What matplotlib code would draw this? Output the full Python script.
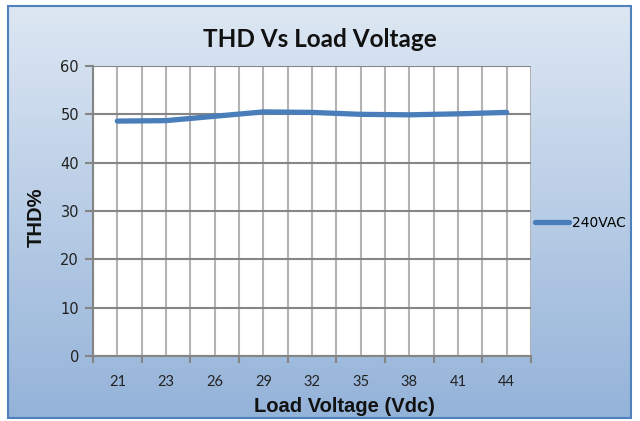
import matplotlib
matplotlib.use("Agg")
import matplotlib.pyplot as plt
import numpy as np
from matplotlib.patches import Rectangle

load_v = ['21', '23', '26', '29', '32', '35', '38', '41', '44']
thd_240 = [48.6, 48.7, 49.6, 50.5, 50.4, 50.0, 49.9, 50.1, 50.4]
series_name = '240VAC'

W, H = 640, 421
fig = plt.figure(figsize=(W / 100, H / 100), dpi=100)
fig.patch.set_facecolor('white')

# background panel with vertical gradient
bg = fig.add_axes([0, 0, 1, 1], zorder=0)
bg.set_xlim(0, W)
bg.set_ylim(H, 0)
bg.axis('off')
grad = np.linspace(0, 1, 256).reshape(-1, 1)
cmap = matplotlib.colors.LinearSegmentedColormap.from_list('g', ['#dde7f3', '#94b3d9'])
bg.imshow(grad, extent=(8, 631, 418, 6), cmap=cmap, aspect='auto')
bg.add_patch(Rectangle((8, 6), 623, 412, fill=False, ec='#4f81bd', lw=1.5))

L, R, T, B = 93, 531, 66, 356
ax = fig.add_axes([L / W, 1 - B / H, (R - L) / W, (B - T) / H], zorder=1)
ax.set_facecolor('white')
x = np.arange(len(load_v))
ax.plot(x, thd_240, color='#4a7ebb', lw=3.8, solid_capstyle='round', solid_joinstyle='round', label=series_name, zorder=3)

ax.set_xlim(-0.5, len(load_v) - 0.5)
ax.set_ylim(0, 60)
ax.set_yticks(range(0, 61, 10))
ax.set_xticks(np.arange(-0.5, len(load_v)), [''] * (len(load_v) + 1))
ax.set_xticks(x, load_v, minor=True)
ax.grid(axis='y', color='#858585', lw=1.5)
ax.grid(axis='x', which='both', color='#b3b3b3', lw=1.5)
ax.set_axisbelow(True)
for s in ['top', 'right']:
    ax.spines[s].set_visible(False)
for s in ['left', 'bottom']:
    ax.spines[s].set_color('#858585')
    ax.spines[s].set_linewidth(1.5)
ax.tick_params(axis='y', length=6, width=1.5, color='#858585', labelsize=10.5, pad=4, labelcolor='#222222')
ax.tick_params(axis='x', which='major', length=5, width=1.5, color='#858585')
ax.tick_params(axis='x', which='minor', length=0, labelsize=10.5, pad=14, labelcolor='#222222')
for t in ax.get_xticklabels(minor=True):
    t.set_fontfamily('Lato')

fig.text(320 / W, 1 - 47 / H, 'THD Vs Load Voltage', ha='center', va='baseline',
         fontsize=17.5, fontweight='bold', family='Lato', color='#111111')
fig.text(344 / W, 1 - 412 / H, 'Load Voltage (Vdc)', ha='center', va='baseline',
         fontsize=14.5, fontweight='bold', family='Liberation Sans', color='#111111')
fig.text(36 / W, 1 - 217 / H, 'THD%', ha='center', va='center', rotation=90,
         fontsize=14.5, fontweight='bold', family='Liberation Sans', color='#111111')

ax.legend(loc='center left', bbox_to_anchor=(529 / W, 1 - 223 / H), bbox_transform=fig.transFigure,
          frameon=False, fontsize=10, handlelength=2.5, handletextpad=0.2, borderaxespad=0)

fig.savefig('out.png', dpi=100)
